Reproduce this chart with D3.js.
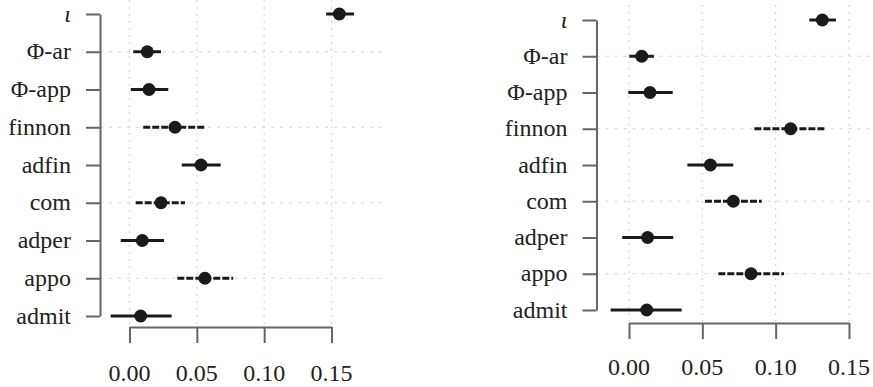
<!DOCTYPE html>
<html>
<head>
<meta charset="utf-8">
<script src="https://cdn.jsdelivr.net/npm/d3@7"></script>
<style>
  html, body { margin: 0; padding: 0; background: #fff; }
  svg { display: block; }
</style>
</head>
<body>
<svg id="chart" width="873" height="387"></svg>
<script>
// ---- data ----
const categories = ["ι", "Φ-ar", "Φ-app", "finnon", "adfin", "com", "adper", "appo", "admit"];

const leftEst = [0.1558, 0.0132, 0.0145, 0.0338, 0.0531, 0.0234, 0.0095, 0.0560, 0.0083];
const leftLo  = [0.1460, 0.0028, 0.0009, 0.0102, 0.0388, 0.0046, -0.0065, 0.0355, -0.0140];
const leftHi  = [0.1667, 0.0234, 0.0288, 0.0568, 0.0677, 0.0412, 0.0256, 0.0770, 0.0313];

const rightEst = [0.1318, 0.0087, 0.0143, 0.1102, 0.0555, 0.0711, 0.0127, 0.0832, 0.0121];
const rightLo  = [0.1229, 0.0002, -0.0005, 0.0855, 0.0398, 0.0518, -0.0046, 0.0609, -0.0125];
const rightHi  = [0.1411, 0.0170, 0.0298, 0.1343, 0.0711, 0.0905, 0.0302, 0.1057, 0.0359];

const dashedCats = ["finnon", "com", "appo"];
const gridCats = ["Φ-ar", "finnon", "com", "appo"];
const xTicks = [0.00, 0.05, 0.10, 0.15];

// ---- drawing ----
const svg = d3.select("#chart");
const SERIF = "Liberation Serif";

function panel(cfg, est, lo, hi) {
  const g = svg.append("g");
  const x = d3.scaleLinear().domain([0, 0.15]).range(cfg.xRange);
  const y = d3.scalePoint().domain(categories).range(cfg.yRange).padding(0);

  // grid
  g.selectAll("line.vg").data(xTicks).join("line").attr("class", "vg")
    .attr("x1", d => x(d)).attr("x2", d => x(d))
    .attr("y1", cfg.gridTop).attr("y2", cfg.xAxisY)
    .attr("stroke", "#d4d4d4").attr("stroke-width", 1.2)
    .attr("stroke-dasharray", "2,5");
  g.selectAll("line.hg").data(gridCats).join("line").attr("class", "hg")
    .attr("x1", cfg.yAxisX).attr("x2", cfg.gridRight)
    .attr("y1", d => y(d)).attr("y2", d => y(d))
    .attr("stroke", "#d4d4d4").attr("stroke-width", 1.2)
    .attr("stroke-dasharray", "3,6");

  // y axis (lines via d3 axis, labels drawn separately)
  const ya = g.append("g").attr("transform", `translate(${cfg.yAxisX},0)`)
    .call(d3.axisLeft(y).tickSize(14).tickSizeOuter(0).tickFormat(""));
  ya.select(".domain").attr("stroke", "#666").attr("stroke-width", 2);
  ya.selectAll(".tick line").attr("stroke", "#666").attr("stroke-width", 2);
  g.selectAll("text.ylab").data(categories).join("text").attr("class", "ylab")
    .attr("x", cfg.yAxisX - 29).attr("y", d => y(d)).attr("dy", "0.32em")
    .attr("text-anchor", "end")
    .attr("font-family", SERIF).attr("font-size", 24).attr("fill", "#222")
    .attr("font-style", d => d === "ι" ? "italic" : "normal")
    .text(d => d);

  // x axis
  const xa = g.append("g").attr("transform", `translate(0,${cfg.xAxisY})`)
    .call(d3.axisBottom(x).tickValues(xTicks).tickFormat("")
      .tickSize(16).tickSizeOuter(0));
  xa.select(".domain").attr("stroke", "#666").attr("stroke-width", 2);
  xa.selectAll(".tick line").attr("stroke", "#666").attr("stroke-width", 2);
  g.selectAll("text.xlab").data(xTicks).join("text").attr("class", "xlab")
    .attr("x", d => x(d)).attr("y", cfg.tickLabelY).attr("dy", "0.35em")
    .attr("text-anchor", "middle")
    .attr("font-family", SERIF).attr("font-size", 24).attr("fill", "#222")
    .text(d3.format(".2f"));

  // intervals
  const rows = categories.map((c, i) => ({ c, e: est[i], lo: lo[i], hi: hi[i] }));
  g.selectAll("line.ci").data(rows).join("line").attr("class", "ci")
    .attr("x1", d => x(d.lo)).attr("x2", d => x(d.hi))
    .attr("y1", d => y(d.c)).attr("y2", d => y(d.c))
    .attr("stroke", "#1a1a1a").attr("stroke-width", 3)
    .attr("stroke-dasharray", d => dashedCats.includes(d.c) ? "7,2" : null);
  g.selectAll("circle.pt").data(rows).join("circle").attr("class", "pt")
    .attr("cx", d => x(d.e)).attr("cy", d => y(d.c))
    .attr("r", cfg.r).attr("fill", "#1a1a1a");
}

panel({ xRange: [629, 849], yRange: [20, 310], yAxisX: 596.5, xAxisY: 323,
        tickLabelY: 367, gridTop: 5, gridRight: 873, r: 6.5 },
      rightEst, rightLo, rightHi);
panel({ xRange: [129.5, 331.5], yRange: [14, 316], yAxisX: 100, xAxisY: 327,
        tickLabelY: 373, gridTop: 0, gridRight: 382, r: 6.5 },
      leftEst, leftLo, leftHi);
</script>
</body>
</html>
